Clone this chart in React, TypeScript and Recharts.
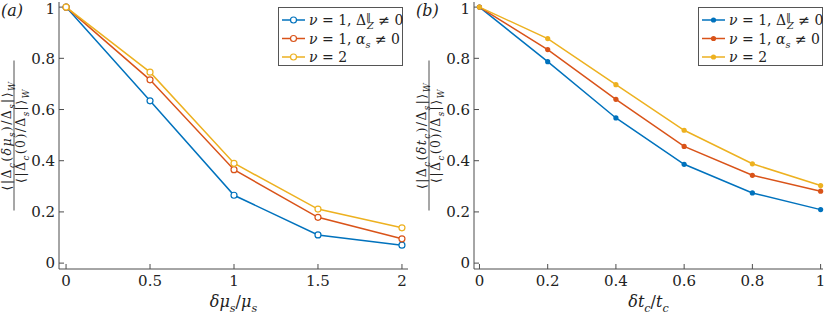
import { Line, LineChart, XAxis, YAxis } from "recharts"

// panel (a)
const muX = [0, 0.5, 1, 1.5, 2]
const muZeeman = [1, 0.634, 0.265, 0.11, 0.07]
const muRashba = [1, 0.716, 0.365, 0.179, 0.095]
const muNu2 = [1, 0.746, 0.39, 0.211, 0.138]
const muTicks = [0, 0.5, 1, 1.5, 2]

// panel (b)
const tcX = [0, 0.2, 0.4, 0.6, 0.8, 1]
const tcZeeman = [1, 0.787, 0.567, 0.386, 0.274, 0.209]
const tcRashba = [1, 0.834, 0.64, 0.456, 0.343, 0.281]
const tcNu2 = [1, 0.877, 0.697, 0.519, 0.388, 0.303]
const tcTicks = [0, 0.2, 0.4, 0.6, 0.8, 1]

const yTicks = [0, 0.2, 0.4, 0.6, 0.8, 1]

const BLUE = "#0072BD"
const RED = "#D95319"
const YELLOW = "#EDB120"
const AXIS = "#4d4d4d"
const FONT = "DejaVu Serif"

type Seg = { t: string; sub?: boolean; sup?: boolean; it?: boolean; dx?: number }

function Segs({ segs, size }: { segs: Seg[]; size: number }) {
  let shift = 0
  return (
    <>
      {segs.map((s, i) => {
        const target = s.sub ? size * 0.3 : s.sup ? -size * 0.38 : 0
        const dy = target - shift
        shift = target
        return (
          <tspan
            key={i}
            dy={dy}
            dx={s.dx ?? 0}
            fontSize={s.sub || s.sup ? size * 0.7 : size}
            fontStyle={s.it ? "italic" : "normal"}
          >
            {s.t}
          </tspan>
        )
      })}
    </>
  )
}

function FracLabel({ num, den, cx, cy }: { num: Seg[]; den: Seg[]; cx: number; cy: number }) {
  return (
    <g transform={`translate(${cx},${cy}) rotate(-90)`} fontFamily={FONT} fill="#222" letterSpacing={1.4}>
      <text x={0} y={-3} textAnchor="middle">
        <Segs segs={num} size={12.5} />
      </text>
      <line x1={-75} x2={75} y1={0} y2={0} stroke="#222" strokeWidth={0.8} />
      <text x={0} y={11} textAnchor="middle">
        <Segs segs={den} size={12.5} />
      </text>
    </g>
  )
}

function legendRows() {
  return [
    {
      color: BLUE,
      segs: [
        { t: "ν", it: true },
        { t: " = 1, Δ" },
        { t: "‖", sup: true },
        { t: "Z", sub: true, it: true, dx: -4 },
        { t: " ≠ 0" },
      ] as Seg[],
    },
    {
      color: RED,
      segs: [
        { t: "ν", it: true },
        { t: " = 1, " },
        { t: "α", it: true },
        { t: "s", sub: true, it: true },
        { t: " ≠ 0" },
      ] as Seg[],
    },
    { color: YELLOW, segs: [{ t: "ν", it: true }, { t: " = 2" }] as Seg[] },
  ]
}

function LegendBox({ open, left }: { open: boolean; left: number }) {
  return (
    <svg width={125} height={59} style={{ position: "absolute", left, top: 7 }}>
      <rect x={0.5} y={0.5} width={124} height={58} fill="#fff" stroke="#555" strokeWidth={1} />
      {legendRows().map((r, i) => {
        const y = 13 + i * 18.5
        return (
          <g key={i}>
            <line x1={4} x2={27} y1={y} y2={y} stroke={r.color} strokeWidth={1.5} />
            {open ? (
              <circle cx={15.5} cy={y} r={3} fill="#fff" stroke={r.color} strokeWidth={1.2} />
            ) : (
              <circle cx={15.5} cy={y} r={2.6} fill={r.color} />
            )}
            <text x={31} y={y + 5} fontFamily={FONT} fill="#222">
              <Segs segs={r.segs} size={14} />
            </text>
          </g>
        )
      })}
    </svg>
  )
}

interface PanelProps {
  xs: number[]
  series: number[][]
  xTicks: number[]
  xDomain: [number, number]
  open: boolean
  tag: string
  num: Seg[]
  den: Seg[]
  xLabel: Seg[]
  legendLeft: number
}

function Panel({ xs, series, xTicks, xDomain, open, tag, num, den, xLabel, legendLeft }: PanelProps) {
  const data = xs.map((x, i) => ({ x, a: series[0][i], b: series[1][i], c: series[2][i] }))
  const colors = [BLUE, RED, YELLOW]
  const tickStyle = { fontSize: 15, fill: "#222", fontFamily: FONT }
  const dot = (c: string) =>
    open ? { r: 3, fill: "#fff", stroke: c, strokeWidth: 1.2 } : { r: 2.6, fill: c, stroke: c, strokeWidth: 0 }

  return (
    <div style={{ position: "relative", width: 415, height: 314 }}>
      <LineChart width={415} height={314} data={data} margin={{ top: 2, right: 7, left: 0, bottom: 0 }}>
        <XAxis
          xAxisId="bottom"
          dataKey="x"
          type="number"
          domain={xDomain}
          ticks={xTicks}
          height={45}
          tick={tickStyle}
          tickSize={-5}
          tickMargin={11}
          stroke={AXIS}
          label={{
            content: (p: any) => {
              const vb = p.viewBox
              return (
                <text x={vb.x + vb.width / 2} y={vb.y + 38} textAnchor="middle" fontFamily={FONT} fill="#222">
                  <Segs segs={xLabel} size={16} />
                </text>
              )
            },
          }}
        />
        <XAxis
          xAxisId="top"
          orientation="top"
          dataKey="x"
          type="number"
          domain={xDomain}
          ticks={xTicks}
          height={0}
          tickSize={-5}
          tickFormatter={() => ""}
          stroke={AXIS}
        />
        <YAxis
          yAxisId="left"
          type="number"
          domain={[-0.023, 1.02]}
          ticks={yTicks}
          width={59}
          tick={tickStyle}
          tickSize={-5}
          tickMargin={9}
          stroke={AXIS}
          label={{
            content: (p: any) => {
              const vb = p.viewBox
              return <FracLabel num={num} den={den} cx={14} cy={vb.y + vb.height / 2} />
            },
          }}
        />
        <YAxis
          yAxisId="right"
          orientation="right"
          type="number"
          domain={[-0.023, 1.02]}
          ticks={yTicks}
          width={0}
          tickSize={-5}
          tickFormatter={() => ""}
          stroke={AXIS}
        />
        {["a", "b", "c"].map((k, i) => (
          <Line
            key={k}
            xAxisId="bottom"
            yAxisId="left"
            dataKey={k}
            type="linear"
            stroke={colors[i]}
            strokeWidth={1.5}
            dot={dot(colors[i])}
            activeDot={false}
            isAnimationActive={false}
          />
        ))}
      </LineChart>
      <LegendBox open={open} left={legendLeft} />
      <div
        style={{
          position: "absolute",
          left: 1,
          top: 1,
          fontFamily: FONT,
          fontStyle: "italic",
          fontSize: 16,
          color: "#222",
        }}
      >
        ({tag})
      </div>
    </div>
  )
}

const denCommon: Seg[] = [
  { t: "⟨|Δ" },
  { t: "c", sub: true, it: true },
  { t: "(0)/Δ" },
  { t: "s", sub: true, it: true },
  { t: "|⟩" },
  { t: "W", sub: true, it: true },
]

export default function App() {
  return (
    <div style={{ position: "absolute", left: 0, top: 0, width: 830, height: 314, background: "#fff", display: "flex" }}>
      <Panel
        xs={muX}
        series={[muZeeman, muRashba, muNu2]}
        xTicks={muTicks}
        xDomain={[-0.042, 2.036]}
        open
        tag="a"
        legendLeft={278}
        num={[
          { t: "⟨|Δ" },
          { t: "c", sub: true, it: true },
          { t: "(" },
          { t: "δμ", it: true },
          { t: "s", sub: true, it: true },
          { t: ")/Δ" },
          { t: "s", sub: true, it: true },
          { t: "|⟩" },
          { t: "W", sub: true, it: true },
        ]}
        den={denCommon}
        xLabel={[
          { t: "δμ", it: true },
          { t: "s", sub: true, it: true },
          { t: "/" },
          { t: "μ", it: true },
          { t: "s", sub: true, it: true },
        ]}
      />
      <Panel
        xs={tcX}
        series={[tcZeeman, tcRashba, tcNu2]}
        xTicks={tcTicks}
        xDomain={[-0.016, 1.007]}
        open={false}
        tag="b"
        legendLeft={283}
        num={[
          { t: "⟨|Δ" },
          { t: "c", sub: true, it: true },
          { t: "(" },
          { t: "δt", it: true },
          { t: "c", sub: true, it: true },
          { t: ")/Δ" },
          { t: "s", sub: true, it: true },
          { t: "|⟩" },
          { t: "W", sub: true, it: true },
        ]}
        den={denCommon}
        xLabel={[
          { t: "δt", it: true },
          { t: "c", sub: true, it: true },
          { t: "/" },
          { t: "t", it: true },
          { t: "c", sub: true, it: true },
        ]}
      />
    </div>
  )
}
